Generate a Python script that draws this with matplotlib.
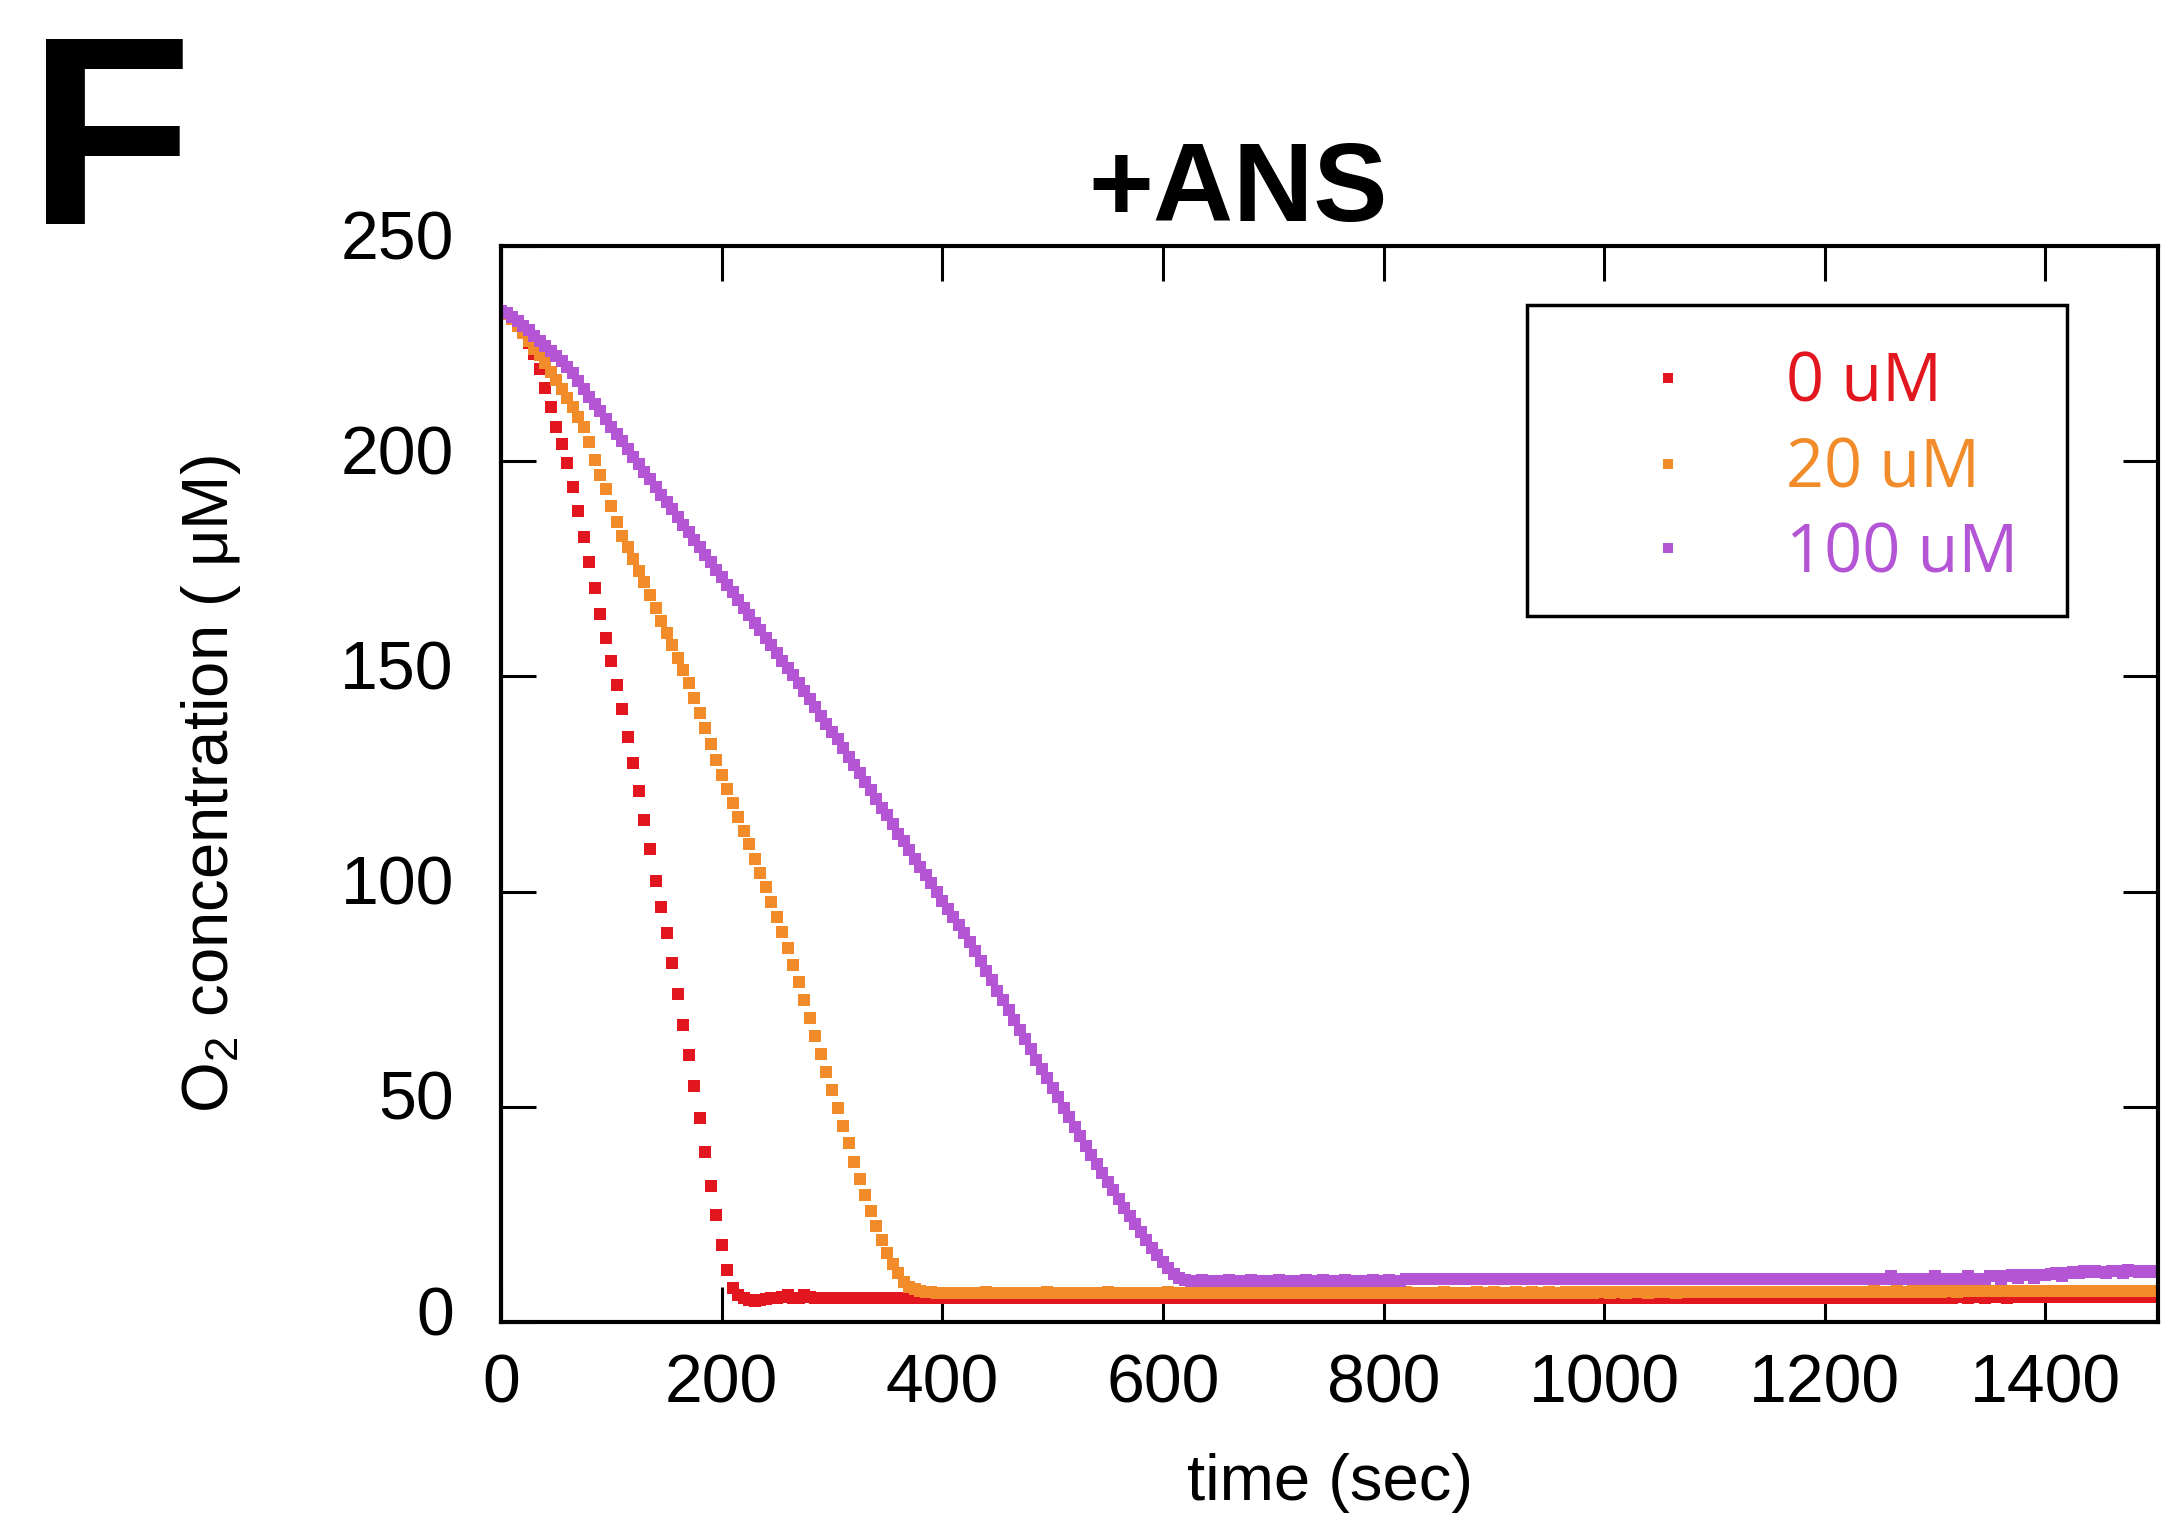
import numpy as np
import matplotlib
matplotlib.use("Agg")
import matplotlib.pyplot as plt
import matplotlib.transforms as mtransforms
from matplotlib.patches import Rectangle

# oxygen electrode traces, one reading every 5 s starting at t = 0
dt = 5

o2_0uM = [
    235, 234.5, 233.5, 232, 230, 227.5, 225, 221.5, 217, 212.5, 208, 204, 199.5, 194, 188.5, 182.5, 176.5, 170.5, 164.5, 159,
    153.5, 148, 142.5, 136, 130, 123.5, 116.7, 109.8, 102.5, 96.5, 90.5, 83.5, 76.3, 69, 62, 54.8, 47.4, 39.5, 31.7, 24.8,
    18, 12, 7.8, 6.3, 5.6, 5.1, 5.0, 5.2, 5.3, 5.5, 5.5, 5.8, 6.4, 5.7, 5.6, 6.3, 5.8, 5.6, 5.5, 5.5,
    5.6, 5.6, 5.5, 5.6, 5.6, 5.7, 5.6, 5.6, 5.5, 5.6, 5.6, 5.6, 5.7, 5.6, 5.6, 5.6, 5.5, 5.6, 5.6, 5.6,
    5.6, 5.5, 5.6, 5.6, 5.6, 5.6, 5.7, 5.6, 5.6, 5.6, 5.5, 5.6, 5.6, 5.6, 5.6, 5.6, 5.7, 5.6, 5.6, 5.5,
    5.6, 5.6, 5.6, 5.6, 5.5, 5.6, 5.6, 5.7, 5.6, 5.6, 5.6, 5.6, 5.5, 5.6, 5.6, 5.6, 5.6, 5.7, 5.6, 5.6,
    5.6, 5.6, 5.6, 5.5, 5.6, 5.6, 5.6, 5.6, 5.6, 5.7, 5.6, 5.6, 5.6, 5.5, 5.6, 5.6, 5.6, 5.6, 5.6, 5.7,
    5.6, 5.6, 5.5, 5.6, 5.6, 5.6, 5.7, 5.6, 5.6, 5.6, 5.6, 5.5, 5.6, 5.6, 5.6, 5.7, 5.6, 5.6, 5.6, 5.6,
    5.7, 5.6, 5.6, 5.6, 5.5, 5.6, 5.6, 5.6, 5.7, 5.6, 5.6, 5.6, 5.6, 5.6, 5.5, 5.6, 5.6, 5.7, 5.6, 5.6,
    5.6, 5.6, 5.7, 5.6, 5.6, 5.6, 5.6, 5.5, 5.6, 5.6, 5.7, 5.6, 5.6, 5.6, 5.6, 5.6, 5.7, 5.6, 5.6, 5.6,
    5.6, 5.7, 5.6, 5.6, 5.6, 5.7, 5.6, 5.6, 5.6, 5.7, 5.6, 5.6, 5.7, 5.6, 5.6, 5.7, 5.6, 5.6, 5.7, 5.7,
    5.7, 5.6, 5.7, 5.7, 5.6, 5.7, 5.7, 5.6, 5.7, 5.7, 5.7, 5.6, 5.7, 5.7, 5.7, 5.7, 5.6, 5.7, 5.7, 5.7,
    5.7, 5.7, 5.8, 5.7, 5.7, 5.7, 5.7, 5.8, 5.7, 5.7, 5.7, 5.8, 5.7, 5.7, 5.8, 5.7, 5.7, 5.8, 5.7, 5.7,
    5.8, 5.7, 5.8, 5.7, 5.8, 5.8, 5.7, 5.8, 5.8, 5.7, 5.8, 5.8, 5.8, 5.7, 5.8, 5.8, 5.8, 5.8, 5.8, 5.8,
    5.8, 5.8, 5.8, 5.9, 5.8, 5.8, 5.8, 5.8, 5.9, 5.8, 5.8, 5.8, 5.9, 5.8, 5.8, 5.9, 5.8, 5.8, 5.9, 5.8,
    5.8,
]

o2_20uM = [
    235, 234.3, 233, 231.5, 229.8, 228, 226.2, 224.6, 222.8, 220.8, 218.8, 216.7, 214.6, 212.5, 210.3, 208, 204.5, 200.4, 196.8, 193.5,
    189.6, 186, 182.7, 180, 177.3, 174.6, 172, 169, 165.8, 162.8, 160, 157.2, 154.3, 151.4, 148.4, 145, 141.5, 138, 134.3, 130.6,
    127, 123.8, 120.5, 117.3, 114.2, 111, 107.7, 104.3, 101, 97.6, 94.2, 90.7, 87, 83, 79, 74.8, 70.6, 66.4, 62.3, 58.2,
    54, 49.8, 45.6, 41.5, 37.3, 33.3, 29.5, 25.8, 22.3, 19, 16, 13.5, 11.3, 9.4, 8.2, 7.6, 7.2, 7.0, 6.9, 6.8,
    6.8, 6.8, 6.8, 6.7, 6.8, 6.8, 6.8, 6.8, 6.9, 6.8, 6.8, 6.8, 6.8, 6.7, 6.8, 6.8, 6.8, 6.8, 6.8, 6.9,
    6.8, 6.8, 6.8, 6.8, 6.8, 6.7, 6.8, 6.8, 6.8, 6.8, 6.9, 6.8, 6.8, 6.8, 6.8, 6.8, 6.8, 6.7, 6.8, 6.8,
    6.8, 6.9, 6.8, 6.8, 6.8, 6.8, 6.8, 6.8, 6.8, 6.7, 6.8, 6.8, 6.8, 6.8, 6.9, 6.8, 6.8, 6.8, 6.8, 6.8,
    6.8, 6.8, 6.7, 6.8, 6.8, 6.8, 6.9, 6.8, 6.8, 6.8, 6.8, 6.8, 6.8, 6.8, 6.7, 6.8, 6.8, 6.9, 6.8, 6.8,
    6.8, 6.8, 6.8, 6.8, 6.9, 6.8, 6.8, 6.8, 6.8, 6.8, 6.8, 6.9, 6.8, 6.8, 6.8, 6.8, 6.8, 6.9, 6.8, 6.8,
    6.9, 6.8, 6.8, 6.8, 6.9, 6.8, 6.8, 6.9, 6.8, 6.8, 6.9, 6.8, 6.8, 6.9, 6.8, 6.9, 6.8, 6.9, 6.8, 6.9,
    6.9, 6.8, 6.9, 6.9, 6.8, 6.9, 6.9, 6.9, 6.8, 6.9, 6.9, 6.9, 6.9, 6.8, 6.9, 6.9, 6.9, 6.9, 6.9, 6.9,
    6.9, 6.9, 7.0, 6.9, 6.9, 6.9, 7.0, 6.9, 6.9, 7.0, 6.9, 6.9, 7.0, 6.9, 7.0, 6.9, 7.0, 7.0, 6.9, 7.0,
    7.0, 7.0, 6.9, 7.0, 7.0, 7.0, 7.0, 7.0, 7.0, 7.1, 7.0, 7.0, 7.0, 7.1, 7.0, 7.0, 7.1, 7.0, 7.1, 7.0,
    7.1, 7.0, 7.1, 7.1, 7.0, 7.1, 7.1, 7.1, 7.1, 7.2, 7.1, 7.1, 7.6, 7.2, 7.1, 7.2, 7.1, 7.2, 7.2, 7.2,
    7.2, 7.2, 7.2, 7.3, 7.2, 7.2, 7.3, 7.2, 7.2, 7.3, 7.2, 7.3, 7.2, 7.3, 7.3, 7.2, 7.3, 7.3, 7.3, 7.3,
    7.3,
]

o2_100uM = [
    235, 234.5, 233.6, 232.6, 231.5, 230.4, 229.2, 228, 226.9, 225.7, 224.5, 223.3, 222, 220.4, 218.6, 216.8, 215, 213.3, 211.6, 209.8,
    208, 206.3, 204.6, 202.8, 201.1, 199.4, 197.6, 195.8, 194, 192.2, 190.5, 188.8, 187, 185.3, 183.6, 181.8, 180, 178.3, 176.6, 174.8,
    173, 171.3, 169.6, 167.8, 166, 164.3, 162.5, 160.7, 159, 157.3, 155.5, 153.7, 152, 150.3, 148.5, 146.6, 144.8, 142.8, 140.9, 139,
    137.2, 135.4, 133.4, 131.3, 129.5, 127.5, 125.4, 123.6, 121.6, 119.5, 117.7, 115.7, 113.5, 111.7, 109.7, 107.6, 105.7, 103.8, 101.9, 100,
    97.8, 96, 94.2, 92.2, 90.4, 88.4, 86.1, 83.8, 81.6, 79.4, 77, 74.8, 72.5, 70.2, 67.8, 65.7, 63.4, 61, 58.9, 56.6,
    54.4, 52.2, 49.8, 47.6, 45.4, 43.2, 41, 38.8, 36.7, 34.6, 32.6, 30.6, 28.6, 26.6, 24.7, 22.8, 20.9, 19.1, 17.3, 15.6,
    14, 12.5, 11.2, 10.2, 9.8, 9.6, 9.6, 9.7, 9.6, 9.6, 9.6, 9.6, 9.7, 9.6, 9.6, 9.6, 9.7, 9.6, 9.6, 9.6,
    9.6, 9.7, 9.6, 9.6, 9.6, 9.6, 9.7, 9.6, 9.6, 9.7, 9.6, 9.6, 9.6, 9.7, 9.6, 9.6, 9.6, 9.6, 9.7, 9.6,
    9.6, 9.7, 9.6, 9.6, 10.0, 9.9, 9.9, 10.0, 9.9, 9.9, 10.0, 9.9, 9.9, 9.9, 10.0, 9.9, 9.9, 9.9, 10.0, 9.9,
    9.9, 9.9, 10.0, 9.9, 9.9, 9.9, 9.9, 10.0, 9.9, 9.9, 9.9, 10.0, 9.9, 9.9, 9.9, 9.9, 10.0, 9.9, 9.9, 9.9,
    10.0, 9.9, 9.9, 9.9, 9.9, 10.0, 9.9, 9.9, 9.9, 10.0, 9.9, 9.9, 9.9, 9.9, 10.0, 9.9, 9.9, 9.9, 10.0, 9.9,
    9.9, 9.9, 10.0, 9.9, 9.9, 9.9, 10.0, 9.9, 9.9, 9.9, 9.9, 10.0, 9.9, 9.9, 10.0, 9.9, 9.9, 9.9, 10.0, 9.9,
    9.9, 10.0, 9.9, 9.9, 9.9, 10.0, 9.9, 9.9, 9.9, 10.0, 9.9, 9.9, 10.7, 10.0, 9.9, 10.0, 9.9, 9.9, 10.0, 10.0,
    10.7, 10.0, 10.0, 10.0, 10.0, 10.0, 10.7, 10.0, 10.1, 10.0, 10.8, 10.8, 10.1, 10.8, 10.9, 10.2, 10.9, 11.0, 10.3, 10.9,
    11.0, 11.2, 11.3, 10.8, 11.4, 11.6, 11.4, 11.8, 11.6, 11.9, 11.7, 11.4, 11.9, 11.8, 11.5, 12.0, 11.8, 11.6, 11.9, 11.7,
    11.8,
]

series = [o2_0uM, o2_20uM, o2_100uM]
labels = ["0 uM", "20 uM", "100 uM"]
colors = ["#E2161F", "#F28C2A", "#B455D6"]
x_ticks = [0, 200, 400, 600, 800, 1000, 1200, 1400]
y_ticks = [0, 50, 100, 150, 200, 250]

plt.rcParams["font.family"] = ["Liberation Sans", "DejaVu Sans"]
plt.rcParams["mathtext.default"] = "regular"

fig = plt.figure(figsize=(21.71, 15.21), dpi=100)
ax = fig.add_axes([0.2308, 0.1308, 0.7632, 0.7074])

for values, col in zip(series, colors):
    t = np.arange(len(values)) * dt
    ax.plot(t, values, ls="none", marker="s", ms=9, mew=0, color=col)

ax.set_xlim(0, 1502)
ax.set_ylim(0, 250)
ax.set_xticks(x_ticks)
ax.set_yticks(y_ticks)

for sp in ax.spines.values():
    sp.set_linewidth(3)
ax.tick_params(direction="in", length=25, width=2.2, top=True, right=True, labelsize=49)
ax.tick_params(axis="x", pad=22)
ax.tick_params(axis="y", pad=34)

# y tick labels sit a little above their ticks
lift = mtransforms.ScaledTranslation(0, 0.12, fig.dpi_scale_trans)
for lbl in ax.get_yticklabels():
    lbl.set_transform(lbl.get_transform() + lift)

ax.set_xlabel("time (sec)", fontsize=47, labelpad=26)
ax.set_ylabel("O$_2$ concentration ( μM)", fontsize=47, labelpad=70)

fig.text(0.5702, 0.8547, "+ANS", fontsize=80, fontweight="bold", ha="center", va="baseline")
fig.text(0.013, 0.8527, "F", fontsize=194, fontweight="bold", va="baseline")

# legend box drawn by hand: marker on the left, coloured label on the right
ax.add_patch(Rectangle((0.619, 0.656), 0.326, 0.289, transform=ax.transAxes,
                       fill=False, edgecolor="black", lw=2.5, zorder=5))
marker_y = [0.8773, 0.7974, 0.7193]
text_y = [0.8557, 0.7760, 0.6963]
for lab, col, my, ty in zip(labels, colors, marker_y, text_y):
    ax.plot([0.7043], [my], ls="none", marker="s", ms=7, mew=0, color=col,
            transform=ax.transAxes, zorder=6)
    ax.text(0.7755, ty, lab, color=col, fontsize=48, family="Open Sans",
            transform=ax.transAxes, va="baseline", ha="left", zorder=6)

fig.savefig("out.png", dpi=100)
